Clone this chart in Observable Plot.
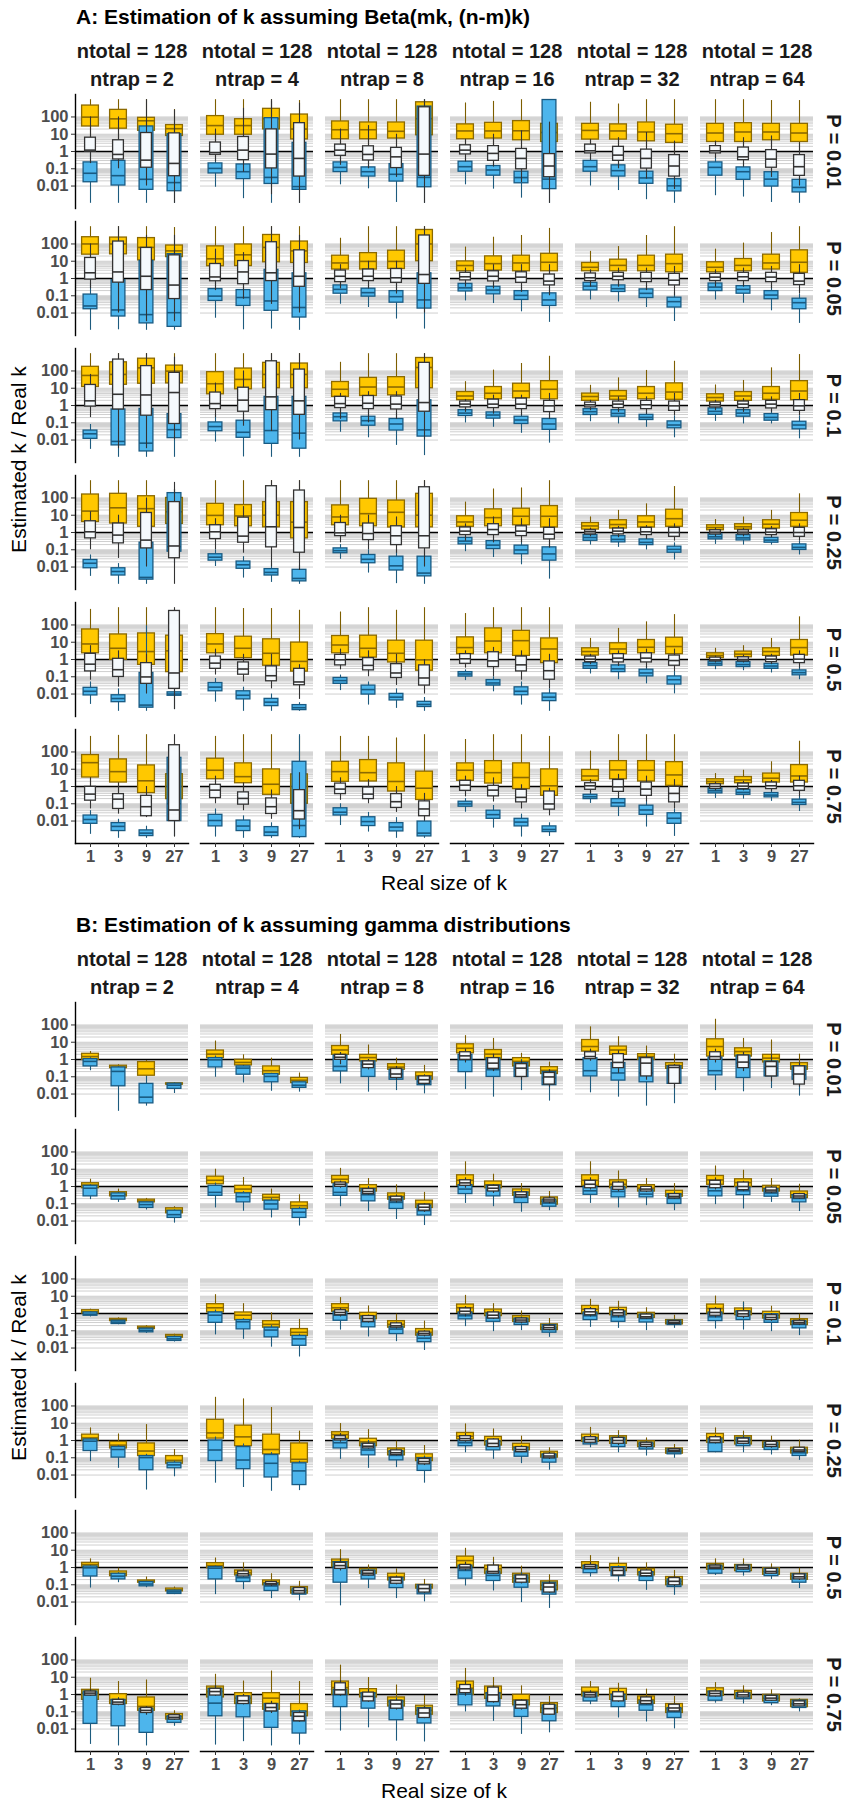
<!DOCTYPE html>
<html>
<head>
<meta charset="utf-8">
<script src="https://cdn.jsdelivr.net/npm/d3@7"></script>
<script src="https://cdn.jsdelivr.net/npm/@observablehq/plot@0.6"></script>
<style>
  body { margin: 0; background: #fff; font-family: "Liberation Sans", Arial, sans-serif; }
  #page { position: relative; width: 845px; height: 1809px; overflow: hidden; }
  .block { position: absolute; left: 0; width: 845px; height: 908px; }
  .title { position: absolute; left: 76px; top: 6px; font-size: 21px; line-height: 21px; font-weight: bold; color: #000; white-space: nowrap; }
  .plot { position: absolute; left: 0; top: 28px; }
  .xlab { position: absolute; left: 75px; width: 738px; top: 872px; text-align: center; font-size: 21px; line-height: 21px; color: #000; }
  .ylab { position: absolute; left: -182px; top: 449px; width: 400px; text-align: center; font-size: 21px; line-height: 21px; color: #000; transform: rotate(-90deg); }
</style>
</head>
<body>
<div id="page"></div>
<script>
// Facet levels and categories
const ntraps = [2, 4, 8, 16, 32, 64];
const pValues = [0.01, 0.05, 0.1, 0.25, 0.5, 0.75];
const kSizes = [1, 3, 9, 27];
const yTicks = [100, 10, 1, 0.1, 0.01];

// Box summaries, log10(estimated k / real k): [low whisker, q1, median, q3, high whisker]
// One entry per facet (rows P = 0.01 ... 0.75, columns ntrap = 2 ... 64), four k sizes each.

// Panel A (Beta) — gold boxes
const betaGold = [
  [[0.3,1.45,1.99,2.66,3.0],[0.6,1.32,1.89,2.41,3.0],[0.5,1.2,1.78,1.95,3.0],[0.4,0.9,1.32,1.53,2.43]],
  [[0.3,0.97,1.5,2.05,3.0],[0.2,0.97,1.5,1.87,3.0],[0.5,1.28,1.9,2.47,3.0],[0.3,0.7,1.3,2.14,2.95]],
  [[0.3,0.71,1.26,1.74,3.0],[0.2,0.71,1.26,1.68,3.0],[0.2,0.75,1.17,1.68,3.0],[0.3,0.94,1.9,2.85,3.0]],
  [[0.3,0.71,1.19,1.57,2.81],[0.3,0.75,1.19,1.66,2.9],[0.2,0.65,1.2,1.76,3.0],[0.0,0.55,1.1,1.6,2.8]],
  [[0.3,0.69,1.22,1.6,2.85],[0.3,0.69,1.19,1.57,2.75],[0.2,0.59,1.13,1.68,3.0],[-0.2,0.5,1.03,1.55,3.0]],
  [[0.2,0.55,1.07,1.6,3.0],[0.1,0.55,1.13,1.64,3.0],[0.2,0.65,1.13,1.6,2.95],[0.0,0.55,1.07,1.6,2.95]],

  [[0.3,1.38,2.0,2.39,3.0],[0.5,1.4,2.0,2.37,3.0],[0.5,1.05,1.8,2.34,3.0],[0.5,1.24,1.6,1.91,2.95]],
  [[0.3,0.71,1.14,1.86,3.0],[0.3,0.72,1.37,1.97,3.0],[0.5,0.94,1.8,2.52,3.0],[0.3,0.9,1.6,2.14,3.0]],
  [[0.0,0.52,0.9,1.32,2.33],[0.0,0.52,0.99,1.47,3.0],[0.0,0.55,0.99,1.61,3.0],[0.3,1.0,2.0,2.81,3.0]],
  [[0.0,0.42,0.75,0.99,1.82],[0.0,0.46,0.86,1.28,2.39],[-0.1,0.42,0.9,1.32,2.49],[-0.3,0.42,0.94,1.43,2.9]],
  [[0.1,0.42,0.65,0.9,1.57],[0.1,0.42,0.76,1.09,1.85],[0.0,0.42,0.76,1.32,2.49],[-0.2,0.36,0.86,1.38,3.0]],
  [[0.0,0.36,0.65,0.94,1.7],[0.1,0.42,0.76,1.13,2.05],[0.1,0.52,0.9,1.38,2.66],[-0.2,0.33,0.94,1.63,3.0]],

  [[0.3,1.07,1.74,2.24,3.0],[0.6,1.2,1.8,2.5,3.0],[0.5,1.26,2.18,2.71,3.0],[0.3,1.28,1.99,2.31,3.0]],
  [[0.0,0.65,1.26,1.93,3.0],[0.3,0.94,1.51,2.14,3.0],[0.3,1.0,1.8,2.47,3.0],[0.3,1.0,1.8,2.43,3.0]],
  [[0.0,0.5,0.94,1.36,2.5],[0.0,0.55,1.07,1.6,3.0],[0.0,0.59,1.07,1.64,3.0],[0.3,1.0,2.2,2.75,3.0]],
  [[0.0,0.31,0.55,0.78,1.38],[0.0,0.36,0.71,1.07,2.05],[0.0,0.42,0.84,1.26,2.43],[-0.2,0.36,0.94,1.41,2.85]],
  [[0.0,0.27,0.52,0.69,1.17],[0.0,0.33,0.55,0.84,1.6],[0.0,0.36,0.71,1.07,2.03],[-0.2,0.33,0.78,1.28,2.56]],
  [[0.0,0.23,0.46,0.65,1.19],[0.0,0.27,0.55,0.78,1.45],[0.0,0.33,0.71,1.07,2.18],[-0.2,0.31,0.84,1.41,2.95]],

  [[0.0,0.61,1.24,2.2,3.0],[0.0,0.52,1.43,2.24,3.0],[-0.5,0.33,1.38,2.1,3.0],[0.3,0.5,1.2,2.0,2.5]],
  [[-0.2,0.42,0.99,1.66,3.0],[-0.3,0.36,0.96,1.59,3.0],[-0.5,0.3,1.0,1.76,3.0],[-0.8,-0.34,0.6,1.76,3.0]],
  [[-0.2,0.42,0.9,1.57,3.0],[-0.3,0.36,1.09,1.95,3.0],[-0.4,0.29,1.17,1.85,3.0],[-0.5,0.3,1.0,2.24,3.0]],
  [[0.0,0.33,0.61,0.94,1.76],[0.0,0.36,0.86,1.34,2.52],[-0.1,0.42,0.94,1.38,2.58],[-0.3,0.29,0.94,1.53,3.0]],
  [[0.0,0.17,0.38,0.55,0.9],[0.0,0.23,0.46,0.71,1.28],[0.0,0.29,0.61,0.94,1.66],[-0.1,0.33,0.8,1.32,2.66]],
  [[0.0,0.13,0.29,0.42,0.75],[0.0,0.17,0.33,0.48,0.9],[0.0,0.23,0.48,0.71,1.28],[0.0,0.33,0.71,1.13,2.24]],

  [[-0.3,0.36,0.9,1.74,2.9],[-0.5,-0.02,0.65,1.45,3.0],[-0.8,-0.31,0.46,1.51,3.0],[-0.8,-0.73,0.5,1.38,2.9]],
  [[-0.3,0.36,0.9,1.47,3.0],[-0.4,0.08,0.65,1.32,2.95],[-0.8,-0.36,0.36,1.17,2.95],[-1.0,-0.7,-0.11,0.98,2.85]],
  [[0.0,0.36,0.84,1.36,2.75],[-0.3,0.11,0.65,1.38,3.0],[-0.6,-0.17,0.36,1.09,2.85],[-1.0,-0.65,-0.02,1.09,3.0]],
  [[0.0,0.31,0.69,1.28,2.66],[-0.2,0.36,1.07,1.8,3.0],[-0.3,0.21,1.09,1.66,3.0],[-0.6,-0.21,0.61,1.22,3.0]],
  [[0.0,0.23,0.46,0.65,1.22],[0.0,0.31,0.61,0.94,1.8],[0.0,0.36,0.71,1.13,2.18],[-0.1,0.31,0.75,1.26,2.6]],
  [[-0.1,0.08,0.23,0.36,0.65],[-0.1,0.13,0.31,0.46,0.8],[0.0,0.21,0.46,0.65,1.22],[0.0,0.23,0.69,1.13,2.47]],

  [[-0.3,0.52,1.38,1.82,2.9],[-0.4,0.23,0.86,1.57,2.96],[-0.8,-0.38,0.33,1.22,3.0],[-1.0,-0.73,0.0,0.71,2.5]],
  [[-0.2,0.42,0.94,1.61,2.9],[-0.3,0.19,0.57,1.34,3.0],[-0.9,-0.48,0.13,0.99,3.0],[-1.2,-1.0,0.0,0.7,2.9]],
  [[-0.2,0.27,0.86,1.43,2.9],[-0.2,0.29,0.8,1.53,2.9],[-0.6,-0.29,0.29,1.34,2.81],[-1.1,-0.78,-0.1,0.86,3.0]],
  [[0.0,0.33,0.94,1.34,2.72],[-0.3,0.17,0.8,1.47,3.0],[-0.5,-0.15,0.52,1.34,3.0],[-0.9,-0.54,0.04,0.99,2.9]],
  [[0.0,0.33,0.61,0.96,2.05],[0.0,0.42,0.96,1.47,3.0],[-0.2,0.29,0.94,1.47,3.0],[-0.3,0.04,0.67,1.41,3.0]],
  [[0.0,0.13,0.29,0.42,0.75],[0.0,0.19,0.38,0.55,0.94],[0.0,0.23,0.48,0.75,1.43],[-0.1,0.23,0.61,1.24,2.62]]
];

// Panel A (Beta) — white boxes
const betaWhite = [
  [[-0.7,-0.02,0.08,0.8,2.0],[-1.0,-0.46,-0.17,0.65,2.0],[-2.0,-0.94,-0.5,1.07,3.0],[-3.0,-1.43,-0.69,1.05,2.4]],
  [[-0.6,-0.19,-0.06,0.52,1.3],[-1.2,-0.5,0.08,0.84,2.5],[-2.5,-0.98,-0.15,1.28,3.0],[-3.0,-1.45,-0.4,1.64,2.8]],
  [[-0.8,-0.25,0.08,0.4,1.3],[-1.0,-0.52,-0.17,0.3,1.5],[-1.5,-0.96,-0.31,0.21,1.0],[-3.0,-1.41,-0.15,2.56,3.0]],
  [[-0.6,-0.17,0.08,0.36,0.7],[-0.9,-0.54,-0.11,0.31,1.0],[-1.8,-1.03,-0.4,0.15,1.2],[-3.0,-1.49,-0.84,-0.15,1.7]],
  [[-0.5,-0.11,0.04,0.4,0.7],[-1.0,-0.54,-0.21,0.27,0.8],[-1.6,-0.99,-0.4,0.11,1.1],[-2.2,-1.45,-0.84,-0.21,0.6]],
  [[-0.4,-0.11,0.04,0.31,0.6],[-0.9,-0.5,-0.31,0.23,0.8],[-1.5,-0.94,-0.44,0.08,0.9],[-2.0,-1.41,-0.88,-0.21,0.5]],

  [[-0.6,-0.06,0.33,1.19,2.0],[-2.0,-0.24,0.38,2.14,3.0],[-2.5,-0.67,0.13,1.77,2.5],[-2.5,-1.19,-0.38,1.34,2.5]],
  [[-0.7,-0.16,0.09,0.84,1.7],[-1.2,-0.33,0.38,1.01,1.5],[-1.5,-0.15,0.33,2.1,3.0],[-2.0,-0.48,0.13,1.63,2.5]],
  [[-0.6,-0.21,0.13,0.46,0.8],[-0.6,-0.15,0.13,0.52,1.0],[-0.9,-0.25,0.04,0.55,1.0],[-2.0,-0.31,0.23,2.49,3.0]],
  [[-0.5,-0.11,0.1,0.33,0.6],[-0.6,-0.17,0.13,0.42,0.8],[-0.8,-0.25,0.08,0.36,0.8],[-1.0,-0.4,-0.15,0.23,0.8]],
  [[-0.5,-0.15,0.04,0.29,0.5],[-0.5,-0.1,0.13,0.33,0.6],[-0.7,-0.21,0.0,0.33,0.6],[-1.0,-0.4,-0.1,0.27,0.7]],
  [[-0.5,-0.15,0.08,0.27,0.5],[-0.5,-0.15,0.1,0.33,0.6],[-0.6,-0.21,0.08,0.33,0.7],[-0.9,-0.38,-0.15,0.27,0.8]],

  [[-0.7,-0.06,0.27,1.19,1.8],[-2.5,-0.23,0.65,2.66,3.0],[-2.5,-0.59,0.61,2.28,3.0],[-2.0,-1.07,0.75,1.89,2.8]],
  [[-0.7,-0.21,0.11,0.75,1.3],[-1.2,-0.36,0.31,1.03,2.0],[-1.5,-0.27,0.5,2.56,3.0],[-2.0,-0.54,0.27,2.08,3.0]],
  [[-0.8,-0.15,0.11,0.5,0.7],[-1.0,-0.21,0.13,0.55,0.8],[-0.8,-0.23,0.08,0.52,0.8],[-2.0,-0.36,0.17,2.47,3.0]],
  [[-0.4,-0.11,0.08,0.23,0.35],[-0.5,-0.15,0.08,0.34,0.6],[-0.6,-0.21,0.08,0.4,0.6],[-0.8,-0.38,-0.02,0.27,0.7]],
  [[-0.3,-0.11,0.04,0.17,0.3],[-0.4,-0.15,0.08,0.23,0.5],[-0.5,-0.21,0.04,0.27,0.5],[-0.6,-0.31,-0.02,0.23,0.7]],
  [[-0.3,-0.11,0.04,0.17,0.3],[-0.4,-0.15,0.08,0.23,0.4],[-0.4,-0.17,0.08,0.27,0.5],[-0.6,-0.31,-0.02,0.31,0.7]],

  [[-1.0,-0.34,0.04,0.65,1.2],[-1.5,-0.63,-0.15,0.52,1.0],[-2.0,-0.92,-0.44,1.13,2.0],[-3.0,-1.49,-0.78,1.76,2.9]],
  [[-1.0,-0.38,0.04,0.42,0.8],[-1.2,-0.59,-0.21,0.86,1.5],[-2.0,-0.86,0.33,2.68,3.0],[-2.2,-1.17,0.29,2.43,3.0]],
  [[-0.6,-0.21,-0.02,0.55,1.0],[-1.0,-0.44,-0.06,0.52,1.0],[-1.2,-0.73,-0.19,0.36,0.9],[-2.0,-0.92,-0.19,2.62,3.0]],
  [[-0.5,-0.15,0.08,0.29,0.5],[-0.6,-0.15,0.17,0.48,0.9],[-0.6,-0.21,0.08,0.36,0.8],[-0.9,-0.4,-0.1,0.27,0.8]],
  [[-0.25,-0.11,0.04,0.13,0.25],[-0.3,-0.11,0.08,0.23,0.35],[-0.4,-0.15,0.04,0.27,0.4],[-0.5,-0.25,0.0,0.27,0.5]],
  [[-0.25,-0.11,0.02,0.13,0.25],[-0.25,-0.11,0.02,0.13,0.25],[-0.3,-0.15,0.02,0.19,0.35],[-0.5,-0.25,0.0,0.27,0.5]],

  [[-1.2,-0.69,-0.27,0.33,0.8],[-1.6,-1.01,-0.59,0.04,0.5],[-2.0,-1.41,-1.01,-0.21,0.3],[-2.9,-1.7,-0.78,2.81,3.0]],
  [[-0.9,-0.54,-0.21,0.17,0.6],[-1.3,-0.88,-0.55,-0.17,0.3],[-1.7,-1.26,-0.94,-0.4,0.3],[-2.31,-1.49,-1.3,-0.54,-0.3]],
  [[-0.6,-0.34,-0.02,0.27,0.6],[-1.0,-0.63,-0.34,0.08,0.5],[-1.5,-1.07,-0.78,-0.27,0.3],[-2.0,-1.51,-1.07,-0.34,0.0]],
  [[-0.5,-0.25,0.04,0.31,0.5],[-1.0,-0.44,-0.08,0.42,0.7],[-1.2,-0.69,-0.31,0.17,0.5],[-1.7,-1.17,-0.65,-0.11,0.3]],
  [[-0.3,-0.15,0.02,0.17,0.3],[-0.4,-0.17,0.08,0.31,0.5],[-0.5,-0.17,0.08,0.36,0.6],[-0.7,-0.36,-0.06,0.23,0.6]],
  [[-0.2,-0.11,-0.02,0.11,0.2],[-0.2,-0.11,0.0,0.13,0.25],[-0.3,-0.15,0.02,0.17,0.3],[-0.5,-0.21,0.02,0.27,0.5]],

  [[-1.3,-0.82,-0.44,-0.02,0.5],[-1.6,-1.3,-0.73,-0.44,0.2],[-1.8,-1.72,-1.17,-0.54,0.0],[-2.93,-2.0,-1.36,2.39,3.0]],
  [[-1.0,-0.67,-0.21,0.1,0.6],[-1.4,-1.05,-0.69,-0.34,0.2],[-1.9,-1.59,-1.17,-0.69,-0.2],[-2.5,-1.91,-1.4,-0.21,0.8]],
  [[-0.8,-0.44,-0.15,0.17,0.5],[-1.0,-0.73,-0.44,-0.06,0.4],[-1.5,-1.24,-0.88,-0.44,0.0],[-2.0,-1.72,-1.3,-0.86,-0.4]],
  [[-0.6,-0.25,0.08,0.33,0.6],[-0.9,-0.57,-0.21,0.04,0.5],[-1.3,-0.92,-0.63,-0.19,0.1],[-1.7,-1.34,-1.01,-0.29,-0.1]],
  [[-0.4,-0.19,0.04,0.19,0.4],[-0.7,-0.31,-0.02,0.38,0.7],[-0.9,-0.54,-0.15,0.23,0.6],[-1.3,-0.92,-0.4,-0.02,0.4]],
  [[-0.25,-0.15,0.0,0.13,0.25],[-0.25,-0.15,0.02,0.17,0.3],[-0.3,-0.15,0.04,0.23,0.35],[-0.6,-0.25,0.04,0.33,0.6]]
];

// Panel A (Beta) — blue boxes
const betaBlue = [
  [[-3.0,-1.78,-1.26,-0.63,-0.1],[-3.0,-1.97,-1.4,-0.54,-0.2],[-3.0,-2.22,-1.61,1.45,1.8],[-3.0,-2.3,-1.8,1.0,1.5]],
  [[-2.07,-1.27,-0.98,-0.69,-0.3],[-2.73,-1.6,-1.17,-0.75,-0.3],[-3.0,-1.88,-1.5,1.93,2.9],[-3.0,-2.22,-2.03,0.5,1.0]],
  [[-1.93,-1.19,-0.92,-0.63,-0.3],[-2.16,-1.45,-1.17,-0.92,-0.5],[-2.95,-1.74,-1.32,-0.73,-0.2],[-3.0,-2.07,-1.5,2.6,3.0]],
  [[-1.93,-1.17,-0.88,-0.59,-0.3],[-2.18,-1.4,-1.07,-0.84,-0.5],[-2.7,-1.84,-1.51,-1.17,-0.7],[-3.0,-2.18,-1.6,2.98,3.0]],
  [[-2.0,-1.17,-0.88,-0.54,-0.3],[-2.26,-1.45,-1.11,-0.8,-0.4],[-2.79,-1.87,-1.53,-1.17,-0.8],[-3.0,-2.31,-1.99,-1.6,-1.3]],
  [[-2.56,-1.4,-0.92,-0.63,-0.3],[-2.64,-1.64,-1.17,-0.92,-0.5],[-2.95,-2.03,-1.6,-1.2,-0.7],[-3.0,-2.37,-2.08,-1.64,-1.3]],

  [[-3.0,-1.78,-1.59,-0.93,-0.3],[-2.97,-2.2,-1.82,-0.1,0.3],[-3.0,-2.6,-2.09,1.01,2.0],[-3.0,-2.8,-1.98,1.41,1.8]],
  [[-2.3,-1.3,-1.02,-0.61,-0.2],[-2.97,-1.59,-1.1,-0.67,-0.2],[-2.93,-1.87,-1.3,0.5,1.0],[-3.0,-2.26,-1.68,0.3,1.0]],
  [[-1.49,-0.88,-0.63,-0.4,-0.2],[-1.68,-1.05,-0.82,-0.59,-0.3],[-2.35,-1.4,-1.05,-0.73,-0.3],[-2.93,-1.74,-1.24,0.3,1.0]],
  [[-1.3,-0.75,-0.54,-0.31,-0.2],[-1.45,-0.92,-0.67,-0.48,-0.3],[-1.93,-1.24,-0.98,-0.73,-0.4],[-2.54,-1.59,-1.24,-0.86,-0.5]],
  [[-1.24,-0.69,-0.44,-0.25,-0.1],[-1.36,-0.78,-0.59,-0.4,-0.2],[-1.68,-1.13,-0.86,-0.63,-0.4],[-2.49,-1.68,-1.34,-1.11,-0.8]],
  [[-1.24,-0.73,-0.5,-0.29,-0.1],[-1.43,-0.88,-0.63,-0.44,-0.2],[-1.87,-1.2,-0.96,-0.73,-0.4],[-2.6,-1.78,-1.4,-1.17,-0.9]],

  [[-2.54,-1.93,-1.64,-1.45,-1.1],[-3.0,-2.31,-2.08,-0.23,0.5],[-3.0,-2.66,-2.18,-0.2,0.5],[-3.0,-1.89,-1.4,-0.5,0.5]],
  [[-2.12,-1.49,-1.22,-0.98,-0.5],[-2.98,-1.87,-1.55,-0.88,-0.4],[-3.0,-2.22,-1.45,0.5,1.0],[-3.0,-2.5,-1.6,0.5,1.0]],
  [[-1.55,-0.92,-0.65,-0.46,-0.2],[-1.87,-1.17,-0.88,-0.65,-0.3],[-2.31,-1.45,-1.07,-0.78,-0.4],[-2.9,-1.8,-1.41,0.3,1.0]],
  [[-1.01,-0.61,-0.44,-0.27,-0.15],[-1.26,-0.76,-0.55,-0.4,-0.2],[-1.61,-1.07,-0.84,-0.65,-0.4],[-2.18,-1.41,-1.07,-0.78,-0.5]],
  [[-0.94,-0.55,-0.36,-0.21,-0.1],[-1.07,-0.65,-0.46,-0.27,-0.1],[-1.26,-0.84,-0.69,-0.54,-0.3],[-1.87,-1.32,-1.13,-0.92,-0.6]],
  [[-0.92,-0.54,-0.34,-0.17,-0.1],[-1.07,-0.65,-0.44,-0.27,-0.1],[-1.07,-0.88,-0.69,-0.5,-0.3],[-1.93,-1.38,-1.13,-0.94,-0.6]],

  [[-2.54,-2.07,-1.78,-1.59,-1.3],[-3.0,-2.49,-2.26,-2.07,-1.8],[-3.0,-2.73,-2.6,-0.59,-0.3],[-1.8,-1.11,-0.82,2.28,2.5]],
  [[-1.97,-1.63,-1.43,-1.26,-1.0],[-2.64,-2.1,-1.87,-1.68,-1.4],[-2.89,-2.49,-2.31,-2.12,-1.8],[-3.0,-2.83,-2.66,-2.16,-1.9]],
  [[-1.55,-1.2,-1.05,-0.92,-0.7],[-2.35,-1.78,-1.55,-1.3,-1.0],[-2.96,-2.2,-1.93,-1.4,-1.0],[-3.0,-2.54,-2.35,-1.4,-1.0]],
  [[-1.11,-0.69,-0.5,-0.31,-0.2],[-1.45,-0.96,-0.73,-0.5,-0.3],[-1.87,-1.26,-1.01,-0.76,-0.4],[-2.7,-1.63,-1.24,-0.86,-0.5]],
  [[-0.73,-0.48,-0.29,-0.15,-0.05],[-0.86,-0.57,-0.4,-0.21,-0.1],[-1.01,-0.73,-0.57,-0.4,-0.2],[-1.59,-1.17,-0.98,-0.82,-0.6]],
  [[-0.69,-0.4,-0.25,-0.11,-0.05],[-0.73,-0.46,-0.31,-0.15,-0.05],[-0.73,-0.59,-0.44,-0.31,-0.15],[-1.3,-1.01,-0.86,-0.69,-0.5]],

  [[-2.6,-2.08,-1.84,-1.64,-1.3],[-3.0,-2.47,-2.26,-2.07,-1.7],[-3.0,-2.79,-2.64,-0.78,1.95],[-2.9,-2.1,-2.0,-1.9,-1.3]],
  [[-2.47,-1.84,-1.6,-1.36,-1.1],[-3.0,-2.31,-2.07,-1.84,-1.6],[-3.0,-2.7,-2.47,-2.28,-2.0],[-3.0,-2.93,-2.79,-2.64,-2.5]],
  [[-1.8,-1.41,-1.22,-1.07,-0.9],[-2.64,-2.03,-1.74,-1.51,-1.3],[-2.83,-2.37,-2.18,-1.99,-1.7],[-3.0,-2.75,-2.6,-2.45,-2.2]],
  [[-1.22,-0.99,-0.84,-0.73,-0.6],[-1.87,-1.51,-1.36,-1.19,-1.0],[-2.64,-2.07,-1.84,-1.61,-1.3],[-3.0,-2.41,-2.18,-1.97,-1.7]],
  [[-0.84,-0.54,-0.36,-0.21,-0.1],[-1.17,-0.73,-0.54,-0.34,-0.2],[-1.41,-0.98,-0.78,-0.59,-0.4],[-1.99,-1.45,-1.17,-0.98,-0.7]],
  [[-0.59,-0.36,-0.23,-0.11,-0.05],[-0.65,-0.44,-0.29,-0.15,-0.05],[-0.78,-0.54,-0.38,-0.25,-0.15],[-1.17,-0.92,-0.76,-0.63,-0.45]],

  [[-2.77,-2.16,-1.91,-1.68,-1.4],[-3.0,-2.58,-2.31,-2.12,-1.9],[-3.0,-2.87,-2.7,-2.54,-2.3],[-2.9,-2.0,-1.0,1.66,2.0]],
  [[-2.93,-2.31,-1.97,-1.64,-1.3],[-3.0,-2.58,-2.29,-1.97,-1.7],[-3.0,-2.87,-2.64,-2.35,-2.1],[-3.0,-2.93,-2.26,1.43,3.0]],
  [[-2.26,-1.68,-1.49,-1.26,-1.0],[-2.64,-2.29,-2.03,-1.78,-1.5],[-3.0,-2.6,-2.35,-2.12,-1.8],[-3.0,-2.89,-2.7,-2.03,-1.7]],
  [[-1.49,-1.17,-1.01,-0.88,-0.7],[-2.41,-1.87,-1.63,-1.4,-1.1],[-2.93,-2.31,-2.06,-1.87,-1.6],[-2.89,-2.64,-2.49,-2.31,-2.1]],
  [[-0.98,-0.73,-0.59,-0.48,-0.3],[-1.74,-1.17,-0.94,-0.73,-0.5],[-2.35,-1.64,-1.36,-1.11,-0.8],[-2.89,-2.16,-1.84,-1.55,-1.3]],
  [[-0.69,-0.4,-0.25,-0.11,-0.05],[-0.73,-0.48,-0.34,-0.19,-0.1],[-0.86,-0.63,-0.5,-0.38,-0.2],[-1.45,-1.07,-0.92,-0.76,-0.5]]
];

// Panel B (gamma) — gold boxes
const gammaGold = [
  [[-0.1,-0.02,0.17,0.33,0.46],[-0.55,-0.5,-0.45,-0.36,-0.3],[-1.07,-0.94,-0.54,-0.15,-0.06],[-1.5,-1.45,-1.42,-1.38,-1.36]],
  [[-0.1,0.08,0.31,0.52,1.07],[-0.4,-0.34,-0.17,-0.02,0.27],[-0.95,-0.88,-0.65,-0.4,0.08],[-1.4,-1.36,-1.2,-1.07,-0.78]],
  [[0.0,0.27,0.55,0.78,1.45],[-0.2,-0.11,0.11,0.27,0.84],[-0.7,-0.59,-0.44,-0.27,0.08],[-1.2,-1.17,-0.94,-0.75,-0.34]],
  [[0.0,0.36,0.65,0.88,1.38],[-0.1,0.02,0.31,0.55,1.22],[-0.5,-0.4,-0.11,0.08,0.36],[-0.9,-0.84,-0.63,-0.44,-0.15]],
  [[0.0,0.46,0.75,1.13,1.89],[-0.1,0.27,0.55,0.75,1.32],[-0.2,-0.02,0.17,0.31,0.78],[-0.6,-0.54,-0.36,-0.21,0.31]],
  [[-0.1,0.17,0.75,1.17,2.33],[0.0,0.17,0.46,0.65,1.22],[-0.2,-0.17,0.08,0.27,1.13],[-0.7,-0.59,-0.4,-0.21,0.31]],

  [[-0.2,-0.1,0.08,0.19,0.42],[-0.6,-0.57,-0.44,-0.33,-0.15],[-0.95,-0.92,-0.84,-0.76,-0.69],[-1.6,-1.55,-1.4,-1.26,-1.17]],
  [[0.0,0.13,0.36,0.57,1.0],[-0.4,-0.38,-0.15,0.04,0.52],[-0.9,-0.82,-0.63,-0.48,-0.15],[-1.35,-1.3,-1.11,-0.92,-0.48]],
  [[0.0,0.19,0.42,0.61,1.05],[-0.35,-0.29,-0.1,0.08,0.46],[-0.85,-0.76,-0.57,-0.4,0.1],[-1.3,-1.24,-1.01,-0.82,-0.34]],
  [[-0.1,0.04,0.36,0.65,1.43],[-0.2,-0.1,0.1,0.29,0.71],[-0.6,-0.54,-0.34,-0.17,0.17],[-1.1,-1.05,-0.86,-0.63,-0.29]],
  [[-0.1,0.04,0.36,0.65,1.43],[-0.2,-0.1,0.13,0.36,0.9],[-0.35,-0.29,-0.1,0.08,0.46],[-0.65,-0.59,-0.44,-0.25,0.17]],
  [[-0.1,0.1,0.38,0.61,1.19],[-0.1,-0.02,0.23,0.42,0.94],[-0.35,-0.29,-0.11,0.04,0.46],[-0.7,-0.67,-0.48,-0.29,0.13]],

  [[-0.05,0.0,0.1,0.19,0.25],[-0.5,-0.44,-0.36,-0.31,-0.25],[-0.95,-0.9,-0.82,-0.76,-0.7],[-1.45,-1.4,-1.32,-1.24,-1.2]],
  [[0.0,0.06,0.33,0.54,1.09],[-0.4,-0.38,-0.1,0.06,0.57],[-0.9,-0.82,-0.63,-0.44,0.04],[-1.35,-1.3,-1.09,-0.9,-0.34]],
  [[0.0,0.1,0.33,0.54,0.92],[-0.4,-0.33,-0.13,0.04,0.44],[-0.9,-0.82,-0.63,-0.44,-0.04],[-1.35,-1.28,-1.09,-0.9,-0.44]],
  [[-0.1,0.04,0.33,0.52,1.05],[-0.2,-0.15,0.06,0.23,0.57],[-0.55,-0.48,-0.33,-0.15,0.15],[-1.0,-0.96,-0.82,-0.63,-0.29]],
  [[-0.1,0.0,0.25,0.44,0.82],[-0.2,-0.1,0.15,0.33,0.71],[-0.3,-0.25,-0.1,0.04,0.33],[-0.7,-0.63,-0.52,-0.38,-0.1]],
  [[-0.1,0.0,0.29,0.52,1.01],[-0.2,-0.1,0.1,0.29,0.67],[-0.35,-0.29,-0.1,0.1,0.42],[-0.7,-0.67,-0.48,-0.33,-0.04]],

  [[-0.1,0.0,0.15,0.34,0.73],[-0.5,-0.46,-0.27,-0.08,0.38],[-0.95,-0.9,-0.61,-0.17,0.92],[-1.4,-1.34,-1.15,-0.9,-0.52]],
  [[-0.2,0.11,0.44,1.2,2.5],[-0.4,-0.33,0.21,0.86,2.41],[-0.9,-0.8,-0.52,0.34,1.91],[-1.35,-1.28,-1.09,-0.17,0.54]],
  [[0.0,0.1,0.34,0.48,0.98],[-0.4,-0.33,-0.08,0.1,0.63],[-0.9,-0.86,-0.65,-0.46,-0.04],[-1.2,-1.19,-0.99,-0.8,-0.29]],
  [[0.0,0.06,0.25,0.44,0.96],[-0.35,-0.29,-0.04,0.21,0.67],[-0.6,-0.57,-0.38,-0.19,0.25],[-1.05,-0.99,-0.84,-0.65,-0.42]],
  [[-0.1,-0.08,0.15,0.34,0.76],[-0.2,-0.19,0.06,0.25,0.57],[-0.45,-0.38,-0.19,-0.04,0.15],[-0.8,-0.76,-0.61,-0.46,-0.23]],
  [[-0.15,-0.13,0.15,0.38,0.73],[-0.25,-0.23,0.02,0.25,0.54],[-0.45,-0.42,-0.23,-0.08,0.25],[-0.8,-0.75,-0.57,-0.42,0.02]],

  [[0.0,0.02,0.17,0.27,0.5],[-0.55,-0.5,-0.36,-0.23,-0.04],[-0.9,-0.88,-0.8,-0.75,-0.55],[-1.4,-1.38,-1.3,-1.22,-1.13]],
  [[-0.1,-0.04,0.11,0.25,0.55],[-0.5,-0.46,-0.31,-0.17,0.27],[-1.1,-1.03,-0.88,-0.75,-0.36],[-1.55,-1.51,-1.32,-1.13,-0.8]],
  [[0.0,0.02,0.34,0.46,1.03],[-0.4,-0.36,-0.21,-0.08,0.15],[-0.8,-0.75,-0.55,-0.36,-0.08],[-1.25,-1.22,-1.11,-1.0,-0.69]],
  [[0.0,0.02,0.4,0.63,1.11],[-0.4,-0.36,-0.08,0.11,0.59],[-0.95,-0.88,-0.61,-0.36,0.08],[-1.4,-1.32,-1.03,-0.8,-0.42]],
  [[-0.1,-0.08,0.11,0.31,0.69],[-0.3,-0.21,0.02,0.21,0.59],[-0.5,-0.46,-0.27,-0.08,0.27],[-1.1,-1.03,-0.8,-0.55,-0.17]],
  [[-0.2,-0.13,0.06,0.21,0.5],[-0.25,-0.21,-0.02,0.15,0.5],[-0.45,-0.42,-0.23,-0.04,0.21],[-0.75,-0.71,-0.52,-0.36,-0.04]],

  [[-0.35,-0.31,0.08,0.27,0.94],[-0.6,-0.55,-0.31,0.02,0.75],[-1.0,-0.94,-0.69,-0.17,0.84],[-1.5,-1.45,-1.28,-1.13,-0.94]],
  [[-0.2,-0.17,0.17,0.46,1.17],[-0.6,-0.55,-0.21,0.08,0.78],[-0.9,-0.88,-0.21,0.08,1.36],[-1.3,-1.26,-0.98,-0.55,0.75]],
  [[-0.1,-0.02,0.4,0.75,1.7],[-0.2,-0.17,0.08,0.31,0.98],[-0.75,-0.69,-0.4,-0.17,0.55],[-1.2,-1.17,-0.92,-0.65,-0.06]],
  [[-0.1,-0.02,0.36,0.75,1.51],[-0.3,-0.25,0.08,0.46,0.98],[-0.7,-0.63,-0.31,-0.02,0.5],[-1.1,-1.07,-0.78,-0.5,-0.11]],
  [[-0.2,-0.11,0.17,0.4,0.75],[-0.35,-0.31,0.02,0.33,0.65],[-0.6,-0.54,-0.31,-0.11,0.31],[-1.1,-1.07,-0.82,-0.55,-0.11]],
  [[-0.1,-0.08,0.17,0.36,0.69],[-0.3,-0.25,-0.02,0.21,0.5],[-0.45,-0.4,-0.21,-0.02,0.27],[-0.75,-0.73,-0.54,-0.31,-0.25]]
];

// Panel B (gamma) — white boxes (null where no box is drawn)
const gammaWhite = [
  [null,null,null,null],
  [null,null,null,null],
  [[-0.3,-0.02,0.13,0.27,0.4],[-0.6,-0.5,-0.27,-0.11,0.0],[-1.2,-1.07,-0.84,-0.55,-0.4],[-1.5,-1.41,-1.17,-0.98,-0.9]],
  [[-0.2,-0.02,0.21,0.42,0.6],[-0.7,-0.54,-0.21,0.08,0.3],[-1.2,-1.01,-0.5,-0.27,-0.1],[-1.6,-1.45,-1.01,-0.78,-0.6]],
  [[-0.1,0.02,0.17,0.42,0.6],[-0.8,-0.5,-0.17,0.31,0.5],[-1.2,-0.98,-0.21,0.08,0.2],[-1.7,-1.41,-0.46,-0.36,-0.3]],
  [[-0.2,-0.02,0.17,0.42,0.6],[-0.7,-0.5,-0.15,0.23,0.4],[-1.3,-0.98,-0.4,-0.15,0.3],[-1.6,-1.45,-0.84,-0.4,-0.2]],

  [null,null,null,null],
  [null,null,null,null],
  [[-0.1,-0.02,0.13,0.23,0.3],[-0.5,-0.44,-0.29,-0.15,-0.05],[-0.95,-0.86,-0.73,-0.59,-0.5],[-1.5,-1.4,-1.2,-1.05,-1.0]],
  [[-0.1,0.04,0.21,0.36,0.5],[-0.4,-0.29,-0.1,0.04,0.1],[-0.7,-0.63,-0.48,-0.34,-0.3],[-1.0,-0.92,-0.78,-0.69,-0.6]],
  [[-0.2,-0.1,0.13,0.33,0.5],[-0.3,-0.19,0.0,0.23,0.3],[-0.35,-0.29,-0.15,-0.02,0.0],[-0.75,-0.69,-0.57,-0.44,-0.4]],
  [[-0.2,-0.1,0.13,0.33,0.5],[-0.3,-0.21,0.0,0.23,0.3],[-0.4,-0.34,-0.21,-0.06,0.0],[-0.75,-0.69,-0.55,-0.44,-0.4]],

  [null,null,null,null],
  [null,null,null,null],
  [[-0.2,-0.1,0.06,0.19,0.3],[-0.55,-0.48,-0.29,-0.15,-0.1],[-0.9,-0.82,-0.71,-0.57,-0.5],[-1.35,-1.28,-1.15,-1.05,-1.0]],
  [[-0.2,-0.06,0.13,0.29,0.4],[-0.35,-0.29,-0.1,0.06,0.2],[-0.6,-0.52,-0.38,-0.29,-0.25],[-1.0,-0.96,-0.82,-0.71,-0.65]],
  [[-0.2,-0.1,0.1,0.25,0.35],[-0.25,-0.13,0.04,0.19,0.3],[-0.35,-0.29,-0.19,-0.06,0.0],[-0.65,-0.61,-0.52,-0.44,-0.4]],
  [[-0.25,-0.13,0.06,0.25,0.35],[-0.3,-0.19,-0.02,0.13,0.3],[-0.45,-0.38,-0.23,-0.1,0.0],[-0.7,-0.63,-0.52,-0.42,-0.35]],

  [null,null,null,null],
  [null,null,null,null],
  [[-0.1,0.0,0.11,0.25,0.4],[-0.5,-0.46,-0.33,-0.19,-0.1],[-0.9,-0.84,-0.71,-0.57,-0.5],[-1.45,-1.38,-1.22,-1.07,-1.0]],
  [[-0.1,-0.04,0.11,0.25,0.4],[-0.4,-0.38,-0.17,0.06,0.1],[-0.7,-0.67,-0.52,-0.38,-0.35],[-1.1,-1.03,-0.9,-0.76,-0.7]],
  [[-0.2,-0.13,0.06,0.19,0.3],[-0.3,-0.19,0.0,0.15,0.2],[-0.45,-0.38,-0.23,-0.13,-0.1],[-0.7,-0.67,-0.57,-0.5,-0.45]],
  [[-0.2,-0.13,0.02,0.19,0.3],[-0.25,-0.19,-0.04,0.11,0.2],[-0.45,-0.38,-0.23,-0.08,0.0],[-0.7,-0.67,-0.55,-0.42,-0.4]],

  [null,null,null,null],
  [null,[-0.55,-0.52,-0.36,-0.23,-0.1],[-1.1,-1.03,-0.94,-0.84,-0.8],[-1.55,-1.51,-1.34,-1.19,-1.15]],
  [[-0.2,-0.08,0.11,0.27,0.5],[-0.5,-0.46,-0.33,-0.21,-0.15],[-1.0,-0.94,-0.75,-0.59,-0.5],[-1.5,-1.45,-1.22,-1.03,-1.0]],
  [[-0.2,-0.11,0.02,0.15,0.3],[-0.4,-0.36,-0.23,0.11,0.3],[-0.95,-0.88,-0.65,-0.46,-0.4],[-1.5,-1.45,-1.13,-0.94,-0.8]],
  [[-0.1,-0.08,0.06,0.15,0.3],[-0.5,-0.46,-0.17,-0.04,0.0],[-0.55,-0.5,-0.33,-0.17,-0.1],[-1.1,-1.03,-0.8,-0.61,-0.5]],
  [[-0.1,-0.08,0.02,0.11,0.2],[-0.15,-0.11,0.0,0.11,0.2],[-0.4,-0.36,-0.23,-0.08,0.0],[-0.75,-0.69,-0.54,-0.4,-0.35]],

  [[-0.1,-0.06,0.08,0.17,0.3],[-0.65,-0.59,-0.44,-0.31,-0.2],[-1.2,-1.07,-0.92,-0.78,-0.7],[-1.5,-1.45,-1.32,-1.2,-1.15]],
  [[-0.1,-0.06,0.17,0.33,0.5],[-0.6,-0.55,-0.36,-0.11,0.0],[-1.1,-0.98,-0.75,-0.55,-0.4],[-1.6,-1.55,-1.26,-1.07,-1.0]],
  [[-0.1,-0.02,0.27,0.65,0.8],[-0.45,-0.4,-0.11,0.11,0.3],[-0.9,-0.82,-0.55,-0.36,-0.3],[-1.4,-1.36,-1.07,-0.82,-0.7]],
  [[-0.1,0.08,0.33,0.55,0.8],[-0.5,-0.44,-0.02,0.4,0.5],[-0.9,-0.82,-0.59,-0.36,-0.3],[-1.2,-1.17,-0.82,-0.59,-0.5]],
  [[-0.2,-0.17,-0.02,0.08,0.2],[-0.45,-0.4,-0.11,0.13,0.3],[-0.6,-0.55,-0.36,-0.17,-0.1],[-1.0,-0.98,-0.78,-0.59,-0.5]],
  [[-0.15,-0.11,0.06,0.17,0.3],[-0.2,-0.17,-0.02,0.11,0.2],[-0.4,-0.36,-0.21,-0.08,-0.05],[-0.7,-0.69,-0.54,-0.4,-0.35]]
];

// Panel B (gamma) — blue boxes
const gammaBlue = [
  [[-0.65,-0.4,-0.11,0.02,0.1],[-3.0,-1.55,-0.69,-0.46,-0.4],[-2.7,-2.54,-2.18,-1.41,-0.98],[-1.97,-1.7,-1.49,-1.4,-1.36]],
  [[-1.03,-0.46,-0.02,0.08,0.2],[-1.36,-0.88,-0.5,-0.4,-0.35],[-1.84,-1.32,-0.98,-0.84,-0.8],[-1.89,-1.64,-1.49,-1.32,-1.3]],
  [[-1.41,-0.69,-0.4,0.23,0.4],[-1.89,-1.01,-0.31,-0.11,0.0],[-1.8,-1.17,-0.84,-0.59,-0.5],[-1.99,-1.49,-1.26,-1.03,-0.9]],
  [[-1.74,-0.73,-0.02,0.27,0.4],[-2.18,-1.01,-0.59,0.08,0.3],[-1.8,-1.01,-0.59,-0.21,0.0],[-2.41,-1.49,-1.07,-0.73,-0.6]],
  [[-1.93,-0.98,-0.65,0.08,0.3],[-2.18,-1.22,-0.78,-0.21,0.0],[-2.7,-1.32,-0.78,0.08,0.3],[-2.56,-1.41,-0.5,-0.4,-0.3]],
  [[-1.8,-0.92,-0.65,0.11,0.3],[-1.87,-1.07,-0.21,0.23,0.4],[-1.68,-0.98,-0.5,-0.11,0.1],[-2.12,-1.17,-0.88,-0.4,-0.2]],

  [[-0.76,-0.57,-0.1,0.04,0.1],[-0.92,-0.76,-0.54,-0.4,-0.35],[-1.36,-1.24,-1.05,-0.92,-0.9],[-2.12,-1.82,-1.63,-1.4,-1.35]],
  [[-1.24,-0.54,-0.34,0.04,0.2],[-1.43,-0.92,-0.59,-0.4,-0.3],[-1.82,-1.34,-1.01,-0.82,-0.7],[-2.29,-1.82,-1.49,-1.3,-1.2]],
  [[-1.17,-0.54,-0.34,0.13,0.3],[-1.45,-0.86,-0.48,-0.15,0.0],[-1.91,-1.3,-0.92,-0.63,-0.5],[-2.26,-1.68,-1.4,-1.11,-1.0]],
  [[-0.98,-0.44,-0.15,0.08,0.2],[-1.17,-0.57,-0.21,0.04,0.1],[-1.49,-0.96,-0.63,-0.34,-0.2],[-1.4,-1.17,-0.96,-0.76,-0.6]],
  [[-0.98,-0.48,-0.25,-0.02,0.1],[-1.24,-0.63,-0.29,-0.02,0.1],[-1.11,-0.63,-0.44,-0.21,-0.1],[-1.4,-1.01,-0.69,-0.44,-0.3]],
  [[-1.05,-0.57,-0.25,-0.02,0.1],[-1.3,-0.5,-0.25,-0.06,0.1],[-0.92,-0.59,-0.38,-0.15,-0.1],[-1.45,-0.92,-0.69,-0.5,-0.4]],

  [[-0.2,-0.13,-0.04,0.06,0.1],[-0.65,-0.61,-0.5,-0.42,-0.4],[-1.15,-1.09,-0.98,-0.88,-0.85],[-1.65,-1.59,-1.47,-1.36,-1.3]],
  [[-1.24,-0.54,-0.1,0.06,0.2],[-1.49,-0.92,-0.48,-0.38,-0.3],[-1.95,-1.38,-0.96,-0.82,-0.7],[-2.52,-1.87,-1.47,-1.3,-1.2]],
  [[-0.96,-0.42,-0.1,0.1,0.2],[-1.36,-0.8,-0.48,-0.19,-0.1],[-1.63,-1.19,-0.9,-0.76,-0.7],[-2.14,-1.66,-1.43,-1.2,-1.1]],
  [[-0.76,-0.34,-0.13,0.06,0.2],[-1.05,-0.48,-0.25,0.0,0.1],[-0.99,-0.67,-0.48,-0.29,-0.2],[-1.38,-1.11,-0.9,-0.67,-0.6]],
  [[-0.8,-0.38,-0.13,0.06,0.2],[-0.86,-0.48,-0.19,0.1,0.2],[-0.99,-0.52,-0.29,-0.06,0.0],[-0.86,-0.67,-0.54,-0.42,-0.35]],
  [[-0.9,-0.44,-0.19,0.06,0.2],[-0.96,-0.38,-0.1,0.13,0.65],[-1.05,-0.54,-0.25,-0.04,0.0],[-1.28,-0.86,-0.63,-0.44,-0.35]],

  [[-1.22,-0.61,-0.04,0.06,0.1],[-1.61,-0.99,-0.52,-0.38,-0.3],[-2.87,-1.72,-0.99,-0.9,-0.8],[-2.1,-1.61,-1.41,-1.28,-1.2]],
  [[-2.47,-1.19,-0.55,0.0,0.2],[-2.72,-1.66,-1.13,-0.38,-0.2],[-2.94,-2.14,-1.32,-0.84,-0.7],[-2.9,-2.58,-1.76,-1.32,-1.2]],
  [[-1.09,-0.46,-0.13,0.06,0.2],[-1.61,-0.86,-0.55,-0.19,0.0],[-1.57,-1.15,-0.86,-0.61,-0.5],[-2.47,-1.76,-1.28,-1.03,-0.9]],
  [[-0.71,-0.33,-0.13,0.0,0.1],[-1.09,-0.57,-0.29,-0.04,0.1],[-1.34,-0.94,-0.65,-0.42,-0.3],[-1.72,-1.28,-0.99,-0.8,-0.7]],
  [[-0.42,-0.23,-0.04,0.15,0.2],[-0.71,-0.38,-0.13,0.15,0.3],[-0.9,-0.52,-0.27,-0.13,-0.05],[-1.03,-0.8,-0.65,-0.52,-0.45]],
  [[-0.71,-0.67,-0.13,0.06,0.2],[-0.71,-0.33,-0.08,0.15,0.3],[-0.84,-0.55,-0.33,-0.13,-0.05],[-1.15,-0.9,-0.71,-0.52,-0.45]],

  [[-1.19,-0.52,-0.02,0.06,0.1],[-0.88,-0.69,-0.5,-0.36,-0.3],[-1.17,-1.09,-0.96,-0.84,-0.8],[-1.57,-1.53,-1.41,-1.34,-1.3]],
  [[-1.57,-0.69,-0.04,0.02,0.1],[-1.28,-0.84,-0.59,-0.46,-0.4],[-1.8,-1.36,-1.07,-0.94,-0.9],[-1.93,-1.57,-1.38,-1.22,-1.2]],
  [[-2.22,-0.88,0.02,0.31,0.5],[-1.22,-0.69,-0.42,-0.17,-0.1],[-1.8,-1.19,-0.84,-0.61,-0.5],[-1.99,-1.55,-1.26,-1.03,-1.0]],
  [[-1.07,-0.65,-0.17,0.11,0.3],[-1.36,-0.78,-0.46,-0.23,-0.1],[-2.03,-1.17,-0.8,-0.46,-0.3],[-2.37,-1.57,-1.26,-0.88,-0.8]],
  [[-0.55,-0.33,-0.08,0.11,0.2],[-0.84,-0.5,-0.23,0.02,0.1],[-1.32,-0.78,-0.5,-0.27,-0.2],[-1.61,-1.13,-0.94,-0.69,-0.6]],
  [[-0.46,-0.36,-0.08,0.11,0.2],[-0.5,-0.27,-0.08,0.11,0.2],[-0.69,-0.5,-0.27,-0.08,0.0],[-1.22,-0.88,-0.61,-0.4,-0.35]],

  [[-2.89,-1.7,-0.02,0.17,0.2],[-2.98,-1.84,-0.55,-0.31,-0.2],[-2.98,-2.22,-0.98,-0.82,-0.7],[-1.84,-1.64,-1.4,-1.26,-1.2]],
  [[-2.93,-1.26,-0.5,0.33,0.5],[-2.73,-1.32,-0.5,-0.11,0.0],[-2.98,-1.93,-0.94,-0.55,-0.4],[-2.93,-2.26,-1.51,-0.98,-0.9]],
  [[-2.12,-0.73,-0.02,0.27,0.4],[-1.93,-0.82,-0.17,0.08,0.2],[-2.7,-1.49,-0.78,-0.36,-0.2],[-2.75,-1.68,-1.13,-0.78,-0.7]],
  [[-1.01,-0.63,0.02,0.27,0.4],[-1.55,-0.69,-0.21,0.08,0.3],[-2.31,-1.3,-0.78,-0.4,-0.3],[-2.22,-1.55,-1.07,-0.63,-0.5]],
  [[-0.59,-0.4,-0.11,0.08,0.2],[-1.36,-0.73,-0.31,-0.02,0.1],[-1.59,-0.94,-0.59,-0.4,-0.3],[-1.99,-1.36,-1.01,-0.78,-0.7]],
  [[-0.5,-0.36,-0.06,0.17,0.25],[-0.55,-0.27,-0.08,0.08,0.2],[-0.65,-0.5,-0.25,-0.08,0.0],[-1.01,-0.78,-0.55,-0.36,-0.3]]
];

// Horizontal reference lines: 1–9 × each decade from 0.01 to 100
const gridValues = [];
for (const e of [-2, -1, 0, 1]) for (let m = 1; m <= 9; m++) gridValues.push(+(m * 10 ** e).toPrecision(2));
gridValues.push(100);

// Expand a facet table into one row per box
function toRows(table) {
  const rows = [];
  table.forEach((facet, i) => {
    const P = pValues[Math.floor(i / ntraps.length)];
    const ntrap = ntraps[i % ntraps.length];
    facet.forEach((b, c) => {
      if (!b) return;
      const [lo, q1, med, q3, hi] = b.map(v => 10 ** v);
      rows.push({P, ntrap, k: kSizes[c], lo, q1, med, q3, hi});
    });
  });
  return rows;
}

const styles = {
  gold:  {fill: "#FFC800", stroke: "#8C6A00", whisker: "#7D5E00", inset: 5.6},
  blue:  {fill: "#4DB5EC", stroke: "#185A82", whisker: "#1D5B7E", inset: 7.1},
  white: {fill: "#F5F9FC", stroke: "#333333", whisker: "#333333", inset: 8.6}
};

function boxMarks(data, s) {
  const ch = {x: "k", fx: "ntrap", fy: "P"};
  return [
    Plot.ruleX(data, {...ch, y1: "lo", y2: "hi", stroke: s.whisker, strokeWidth: 1.1}),
    Plot.barY(data, {...ch, y1: "q1", y2: "q3", fill: s.fill, stroke: s.stroke, strokeWidth: 1.3,
      insetLeft: s.inset, insetRight: s.inset}),
    Plot.tickY(data, {...ch, y: "med", stroke: s.stroke, strokeWidth: 1.6,
      insetLeft: s.inset, insetRight: s.inset})
  ];
}

const tickFont = "'Liberation Sans Narrow', 'Arial Narrow', 'Liberation Sans', Arial, sans-serif";

function facetPlot(gold, white, blue) {
  return Plot.plot({
    width: 845,
    height: 847,
    marginTop: 64,
    marginLeft: 75,
    marginRight: 32,
    marginBottom: 30,
    style: {fontFamily: "'Liberation Sans', Arial, sans-serif", background: "transparent", overflow: "visible"},
    x: {type: "band", domain: kSizes, padding: 0},
    y: {type: "log", domain: [10 ** -3.3, 10 ** 3.3]},
    fx: {domain: ntraps, paddingInner: 0.096, paddingOuter: 0},
    fy: {domain: pValues, paddingInner: 0.0987, paddingOuter: 0},
    marks: [
      Plot.ruleY(gridValues, {stroke: "#cfcfcf", strokeWidth: 1}),
      Plot.ruleY([1], {stroke: "#000", strokeWidth: 1.3}),
      ...boxMarks(toRows(gold), styles.gold),
      ...boxMarks(toRows(blue), styles.blue),
      ...boxMarks(toRows(white), styles.white),
      Plot.frame({anchor: "left", facetAnchor: "left", stroke: "#000", strokeWidth: 1.4}),
      Plot.frame({anchor: "bottom", facetAnchor: "bottom", stroke: "#000", strokeWidth: 1.4}),
      Plot.axisX({tickSize: 4, tickPadding: 3, label: null, fontSize: 16.5, fontWeight: "bold",
        fontFamily: tickFont, fill: "#4d4d4d", stroke: "#333"}),
      Plot.axisY({ticks: yTicks, tickFormat: d => String(d), tickSize: 4, tickPadding: 3, label: null,
        fontSize: 16.5, fontWeight: "bold", fontFamily: tickFont, fill: "#4d4d4d", stroke: "#333"}),
      Plot.axisFx({anchor: "top", tickSize: 0, tickPadding: 9, label: null,
        tickFormat: d => `ntotal = 128\nntrap = ${d}`, lineHeight: 1.4,
        fontSize: 20, fontWeight: "bold", fill: "#1a1a1a"}),
      Plot.axisFy({anchor: "right", tickSize: 0, tickPadding: 20, label: null,
        tickFormat: d => `P = ${d}`, rotate: 90, textAnchor: "middle", lineAnchor: "middle",
        fontSize: 20, fontWeight: "bold", fill: "#1a1a1a"})
    ]
  });
}

const panels = [
  {title: "A: Estimation of k assuming Beta(mk, (n-m)k)", gold: betaGold, white: betaWhite, blue: betaBlue},
  {title: "B: Estimation of k assuming gamma distributions", gold: gammaGold, white: gammaWhite, blue: gammaBlue}
];

const page = document.getElementById("page");
panels.forEach((p, i) => {
  const block = document.createElement("div");
  block.className = "block";
  block.style.top = `${i * 908}px`;
  const title = document.createElement("div");
  title.className = "title";
  title.textContent = p.title;
  const holder = document.createElement("div");
  holder.className = "plot";
  holder.appendChild(facetPlot(p.gold, p.white, p.blue));
  const xlab = document.createElement("div");
  xlab.className = "xlab";
  xlab.textContent = "Real size of k";
  const ylab = document.createElement("div");
  ylab.className = "ylab";
  ylab.textContent = "Estimated k / Real k";
  block.append(holder, title, xlab, ylab);
  page.appendChild(block);
});
</script>
</body>
</html>
